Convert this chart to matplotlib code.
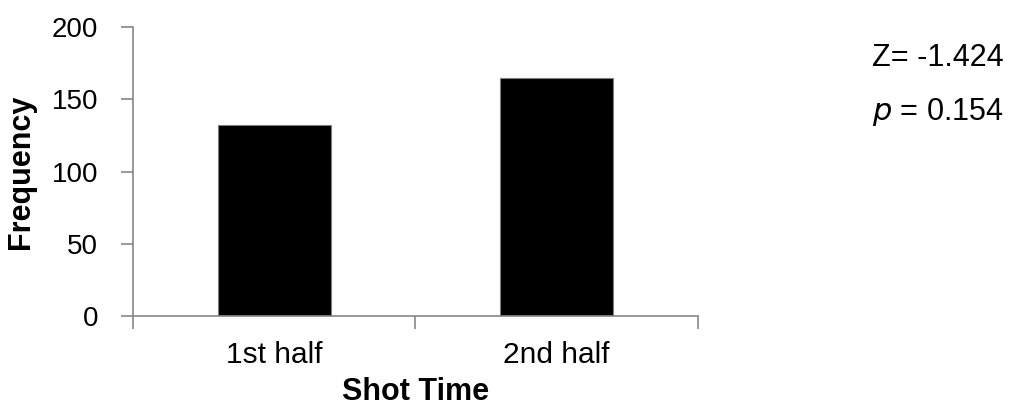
import matplotlib
matplotlib.use("Agg")
import matplotlib.pyplot as plt

categories = ["1st half", "2nd half"]
frequency = [132, 165]
z_value = "-1.424"
p_value = "0.154"

plt.rcParams['font.family'] = ['Liberation Sans', 'DejaVu Sans']

fig = plt.figure(figsize=(10.12, 4.19), dpi=100)
ax = fig.add_axes([0.1314, 0.2465, 0.5583, 0.6883])

x = range(len(categories))
ax.bar(x, frequency, width=0.4, color="black", edgecolor="#7f7f7f", linewidth=0.8)

ax.set_xlim(-0.5, 1.5)
ax.set_ylim(0, 200)
ax.set_yticks([0, 50, 100, 150, 200])
ax.set_xticks([-0.5, 0.5, 1.5])
ax.set_xticklabels([])
ax.set_xticks(list(x), minor=True)
ax.set_xticklabels(categories, minor=True)

gray = "#868686"
for s in ["top", "right"]:
    ax.spines[s].set_visible(False)
for s in ["left", "bottom"]:
    ax.spines[s].set_color(gray)
    ax.spines[s].set_linewidth(1.2)

ax.tick_params(axis="y", which="major", direction="out", length=9, width=1.2,
               color=gray, labelsize=20, pad=16)
ax.tick_params(axis="x", which="major", direction="out", length=9, width=1.2, color=gray)
ax.tick_params(axis="x", which="minor", length=0, labelsize=21.5, pad=18)

ax.set_ylabel("Frequency", fontsize=22, fontweight="bold", labelpad=11)
ax.set_xlabel("Shot Time", fontsize=22, fontweight="bold", labelpad=6)

fig.text(0.862, 0.8425, "Z= " + z_value, fontsize=22, va="baseline", ha="left")
fig.text(0.862, 0.7136, r"$\it{p}$" + " = " + p_value, fontsize=22, va="baseline", ha="left")

fig.savefig("out.png", dpi=100)
